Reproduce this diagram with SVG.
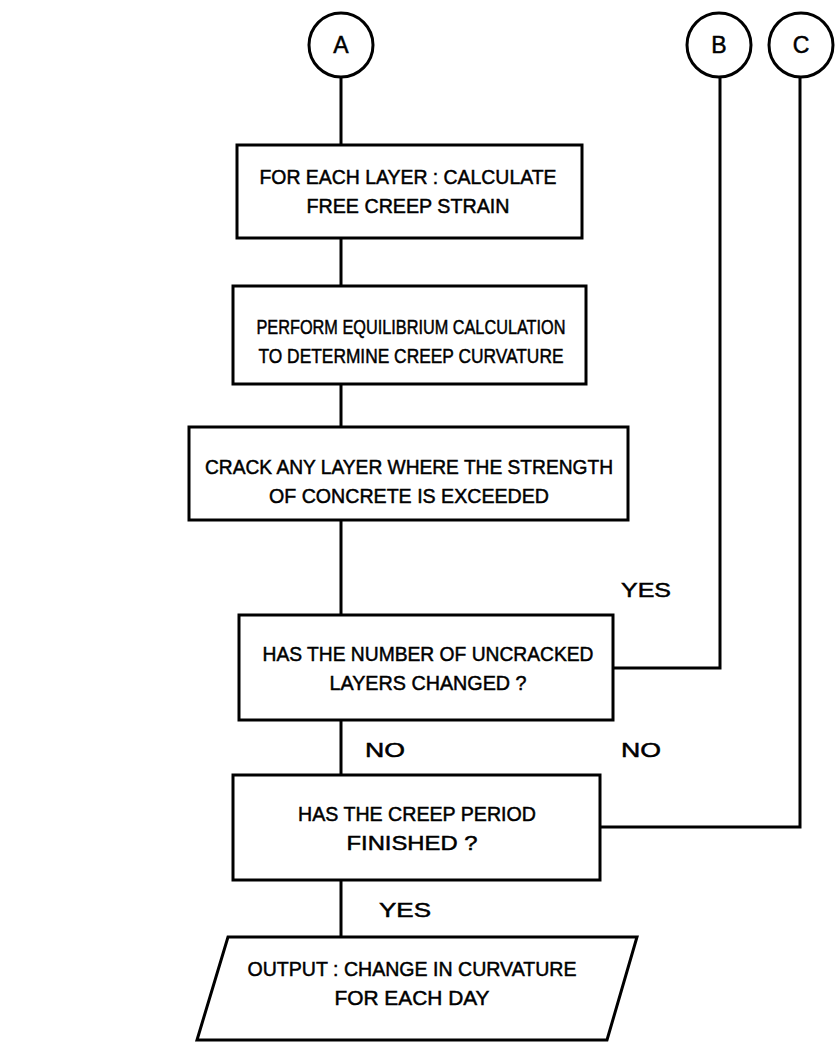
<svg xmlns="http://www.w3.org/2000/svg" width="836" height="1042" viewBox="0 0 836 1042">
<style>
.s{fill:none;stroke:#000;stroke-width:3}
.b{fill:#fff;stroke:#000;stroke-width:3}
text{font-family:"Liberation Sans",Arial,sans-serif;font-size:21px;fill:#000;stroke:#000;stroke-width:0.5;text-anchor:middle}
.c{font-size:23px}
</style>
<rect width="836" height="1042" fill="#fff"/>
<g id="connectors">
<path class="s" d="M341 78V145M341 238V286M341 384V427M341 520V615M341 720V775M341 880V937"/>
<path class="s" d="M613 668H720V78"/>
<path class="s" d="M600 827H800V78"/>
</g>
<g id="labels">
<text x="646" y="597" textLength="50" lengthAdjust="spacingAndGlyphs">YES</text>
<text x="385" y="757" textLength="40" lengthAdjust="spacingAndGlyphs">NO</text>
<text x="641" y="757" textLength="40" lengthAdjust="spacingAndGlyphs">NO</text>
<text x="405" y="917" textLength="52" lengthAdjust="spacingAndGlyphs">YES</text>
</g>
<g id="A"><circle class="b" cx="341" cy="45" r="32"/><text class="c" x="341" y="53">A</text></g>
<g id="B"><circle class="b" cx="719" cy="45" r="32"/><text class="c" x="719" y="53">B</text></g>
<g id="C"><circle class="b" cx="801" cy="45" r="32"/><text class="c" x="801" y="53">C</text></g>
<g id="n1"><rect class="b" x="237" y="145" width="345" height="93"/>
<text x="408" y="184" textLength="297" lengthAdjust="spacingAndGlyphs">FOR EACH LAYER : CALCULATE</text>
<text x="408" y="213" textLength="203" lengthAdjust="spacingAndGlyphs">FREE CREEP STRAIN</text></g>
<g id="n2"><rect class="b" x="233" y="286" width="353" height="98"/>
<text x="411" y="334" textLength="309" lengthAdjust="spacingAndGlyphs">PERFORM EQUILIBRIUM CALCULATION</text>
<text x="411" y="363" textLength="305" lengthAdjust="spacingAndGlyphs">TO DETERMINE CREEP CURVATURE</text></g>
<g id="n3"><rect class="b" x="189" y="427" width="439" height="93"/>
<text x="409" y="474" textLength="408" lengthAdjust="spacingAndGlyphs">CRACK ANY LAYER WHERE THE STRENGTH</text>
<text x="409" y="503" textLength="280" lengthAdjust="spacingAndGlyphs">OF CONCRETE IS EXCEEDED</text></g>
<g id="n4"><rect class="b" x="239" y="615" width="374" height="105"/>
<text x="428" y="661" textLength="331" lengthAdjust="spacingAndGlyphs">HAS THE NUMBER OF UNCRACKED</text>
<text x="428" y="690" textLength="197" lengthAdjust="spacingAndGlyphs">LAYERS CHANGED ?</text></g>
<g id="n5"><rect class="b" x="233" y="775" width="367" height="105"/>
<text x="417" y="821" textLength="238" lengthAdjust="spacingAndGlyphs">HAS THE CREEP PERIOD</text>
<text x="412" y="850" textLength="131" lengthAdjust="spacingAndGlyphs">FINISHED ?</text></g>
<g id="out"><polygon class="b" points="228,937 637,937 607,1040 197,1040"/>
<text x="412" y="976" textLength="329" lengthAdjust="spacingAndGlyphs">OUTPUT : CHANGE IN CURVATURE</text>
<text x="412" y="1005" textLength="155" lengthAdjust="spacingAndGlyphs">FOR EACH DAY</text></g>
</svg>
